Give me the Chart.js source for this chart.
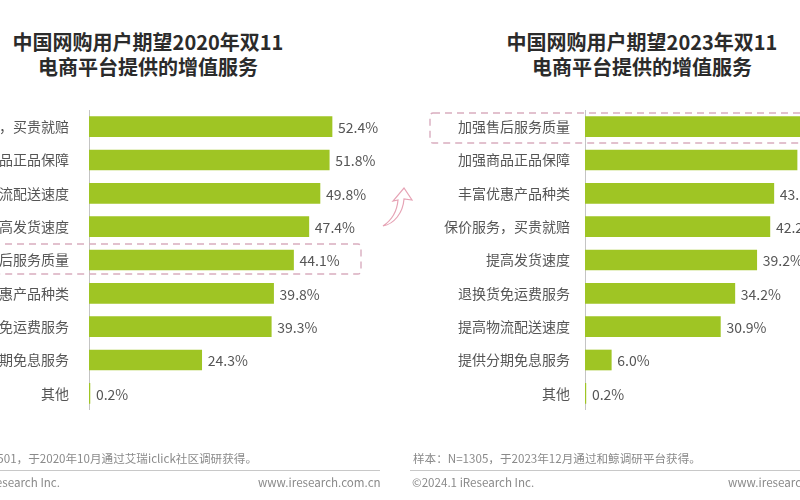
<!DOCTYPE html>
<html>
<head>
<meta charset="utf-8">
<script src="https://cdn.jsdelivr.net/npm/chart.js@4/dist/chart.umd.min.js"></script>
<style>
  html,body{margin:0;padding:0;width:800px;height:500px;overflow:hidden;background:#fff;}
  body{position:relative;font-family:"Noto Sans CJK SC","Noto Sans",sans-serif;}
  .title{position:absolute;font-weight:bold;font-size:20px;color:#2b2b2b;text-align:center;line-height:25px;white-space:nowrap;width:320px;}
  .foot{position:absolute;font-size:11.6px;color:#8a8a8a;white-space:nowrap;line-height:14px;}
  .rule{position:absolute;height:1px;background:#c8c8c8;}
  .cv{position:absolute;}
  svg{position:absolute;left:0;top:0;}
</style>
</head>
<body>
<div class="title" style="left:-12px;top:29px;">中国网购用户期望2020年双11<br>电商平台提供的增值服务</div>
<div class="title" style="left:482px;top:29px;">中国网购用户期望2023年双11<br>电商平台提供的增值服务</div>

<div class="cv" style="left:-120px;top:110px;width:510px;height:300px;"><canvas id="c1"></canvas></div>
<div class="cv" style="left:400px;top:110px;width:500px;height:300px;"><canvas id="c2"></canvas></div>

<svg width="800" height="500">
  <rect x="-10" y="244" width="371" height="30" rx="3" fill="none" stroke="#d9adbf" stroke-width="1.4" stroke-dasharray="7 5"/>
  <rect x="430" y="113" width="400" height="30" rx="3" fill="none" stroke="#d9adbf" stroke-width="1.4" stroke-dasharray="7 5"/>
  <path d="M383,226 C392,220 397,212 398,200 L393,201 L404,188 L412,200 L404,199 C403,213 394,224 383,226 Z" fill="none" stroke="#e6a3b5" stroke-width="1.2"/>
</svg>

<div class="foot" style="right:543px;top:451px;">样本：N=1501，于2020年10月通过艾瑞iclick社区调研获得。</div>
<div class="rule" style="left:0;width:380px;top:470px;"></div>
<div class="foot" style="right:740px;top:475px;">©2020.11 iResearch Inc.</div>
<div class="foot" style="left:258px;top:475px;">www.iresearch.com.cn</div>

<div class="foot" style="left:413px;top:451px;">样本：N=1305，于2023年12月通过和鲸调研平台获得。</div>
<div class="rule" style="left:410px;width:390px;top:470px;"></div>
<div class="foot" style="left:412px;top:475px;">©2024.1 iResearch Inc.</div>
<div class="foot" style="left:728px;top:475px;">www.iresearch.com.cn</div>

<script>
const categories2020 = ["保价服务，买贵就赔","加强商品正品保障","提高物流配送速度","提高发货速度","加强售后服务质量","丰富优惠产品种类","退换货免运费服务","提供分期免息服务","其他"];
const values2020 = [52.4, 51.8, 49.8, 47.4, 44.1, 39.8, 39.3, 24.3, 0.2];
const categories2023 = ["加强售后服务质量","加强商品正品保障","丰富优惠产品种类","保价服务，买贵就赔","提高发货速度","退换货免运费服务","提高物流配送速度","提供分期免息服务","其他"];
const values2023 = [51.0, 48.4, 43.1, 42.2, 39.2, 34.2, 30.9, 6.0, 0.2];

const BAR = '#9fc524';
const valueLabels = {
  id: 'valueLabels',
  afterDatasetsDraw(chart) {
    const ctx = chart.ctx;
    const meta = chart.getDatasetMeta(0);
    const data = chart.data.datasets[0].data;
    ctx.save();
    ctx.font = '14px "Noto Sans CJK SC", "Noto Sans", sans-serif';
    ctx.fillStyle = '#555';
    ctx.textBaseline = 'middle';
    ctx.textAlign = 'left';
    meta.data.forEach((bar, i) => {
      ctx.fillText(data[i].toFixed(1) + '%', bar.x + 6, bar.y + 1);
    });
    ctx.restore();
  }
};

function makeChart(id, cats, vals, axisW, maxV, pad) {
  return new Chart(document.getElementById(id), {
    type: 'bar',
    data: { labels: cats, datasets: [{ data: vals, backgroundColor: BAR, barThickness: 20 }] },
    options: {
      indexAxis: 'y',
      responsive: true,
      maintainAspectRatio: false,
      animation: false,
      layout: { padding: 0 },
      plugins: { legend: { display: false }, tooltip: { enabled: false } },
      scales: {
        x: { display: false, min: 0, max: maxV },
        y: {
          afterFit(s) { s.width = axisW; s.paddingTop = 0; s.paddingBottom = 0; },
          grid: { display: false, drawTicks: false },
          border: { display: true, color: '#c4c4c4', width: 1 },
          ticks: { padding: pad, color: '#555', font: { family: '"Noto Sans CJK SC", "Noto Sans", sans-serif', size: 14 } }
        }
      }
    },
    plugins: [valueLabels]
  });
}
makeChart('c1', categories2020, values2020, 209, 64.9, 20);
makeChart('c2', categories2023, values2023, 185, 71.9, 15);
</script>
</body>
</html>
